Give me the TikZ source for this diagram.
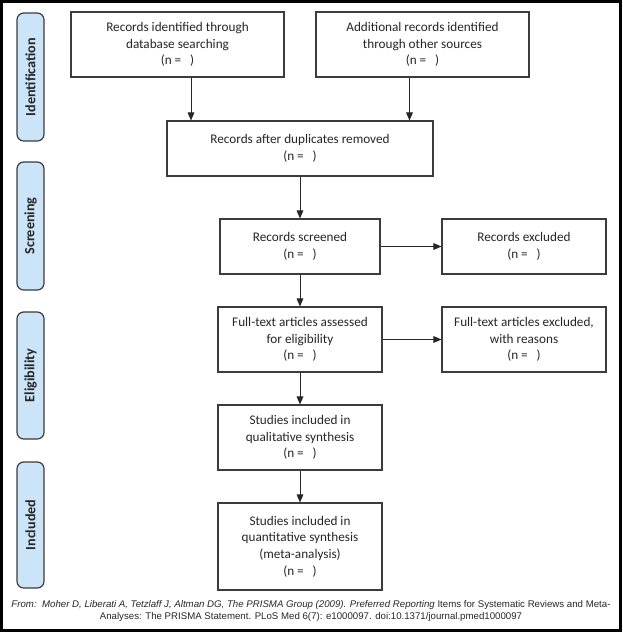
\documentclass[tikz,border=0pt]{standalone}
\usepackage{fontspec}
\setmainfont{Carlito}
\newfontfamily\capfont{Liberation Sans}
\usetikzlibrary{arrows.meta}
\definecolor{phasefill}{RGB}{204,228,248}
\definecolor{linegray}{RGB}{60,60,60}
\tikzset{
  box/.style={draw=linegray, line width=0.8pt, fill=white, align=center, inner sep=2pt,
    font=\fontsize{9.9}{12.5}\selectfont, text=black!85},
  phase/.style={draw=linegray, line width=0.9pt, fill=phasefill, rounded corners=5pt,
    rotate=90, minimum height=20.25pt, inner sep=0pt,
    font=\fontsize{10.6}{12}\selectfont\bfseries, text=black!85},
  arr/.style={draw=black!85, line width=0.75pt, -{Triangle[length=6pt,width=5pt]}}
}
\begin{document}
\begin{tikzpicture}[x=0.75pt,y=-0.75pt]
\useasboundingbox (0,0) rectangle (623,633);
\draw[line width=2.4pt, black] (1.6,1.6) rectangle (620.4,630.4);

% phase labels
\node[phase, minimum width=96pt] (ph1) at (30.5,77) {Identification};
\node[phase, minimum width=96pt] (ph2) at (30.5,226) {Screening};
\node[phase, minimum width=95.25pt] (ph3) at (30.5,375.5) {Eligibility};
\node[phase, minimum width=94.5pt] (ph4) at (30.5,525) {Included};

% boxes
\node[box, minimum width=159.75pt, minimum height=48.75pt] (b1) at (177.5,44.5)
  {Records identified through\\database searching\\(n =\ \ \ )};
\node[box, minimum width=159.75pt, minimum height=48.75pt] (b2) at (422.5,44.5)
  {Additional records identified\\through other sources\\(n =\ \ \ )};
\node[box, minimum width=199.5pt, minimum height=41.25pt] (b3) at (300,148.5)
  {Records after duplicates removed\\(n =\ \ \ )};
\node[box, minimum width=120pt, minimum height=41.25pt] (b4) at (300,246.5)
  {Records screened\\(n =\ \ \ )};
\node[box, minimum width=123pt, minimum height=41.25pt] (b5) at (524,246.5)
  {Records excluded\\(n =\ \ \ )};
\node[box, minimum width=123pt, minimum height=48.75pt] (b6) at (300,339.5)
  {Full-text articles assessed\\for eligibility\\(n =\ \ \ )};
\node[box, minimum width=123pt, minimum height=48.75pt] (b7) at (524,339.5)
  {Full-text articles excluded,\\with reasons\\(n =\ \ \ )};
\node[box, minimum width=123pt, minimum height=48.75pt] (b8) at (300,437.5)
  {Studies included in\\qualitative synthesis\\(n =\ \ \ )};
\node[box, minimum width=123pt, minimum height=65.25pt] (b9) at (300,546.5)
  {Studies included in\\quantitative synthesis\\(meta-analysis)\\(n =\ \ \ )};

% connectors
\coordinate (a1) at (191,0);
\coordinate (a2) at (409.5,0);
\draw[arr] (b1.south -| a1) -- (b3.north -| a1);
\draw[arr] (b2.south -| a2) -- (b3.north -| a2);
\draw[arr] (b3) -- (b4);
\draw[arr] (b4) -- (b5);
\draw[arr] (b4) -- (b6);
\draw[arr] (b6) -- (b7);
\draw[arr] (b6) -- (b8);
\draw[arr] (b8) -- (b9);

% caption
\node[font=\capfont\fontsize{7.25}{8.3}\selectfont, align=center, inner sep=0pt, text=black!85] (cap) at (311,611)
  {\itshape From:\ \ Moher D, Liberati A, Tetzlaff J, Altman DG, The PRISMA Group (2009). Preferred Reporting \upshape Items for Systematic Reviews and Meta-\\Analyses: The PRISMA Statement. PLoS Med 6(7): e1000097. doi:10.1371/journal.pmed1000097};
\end{tikzpicture}
\end{document}
